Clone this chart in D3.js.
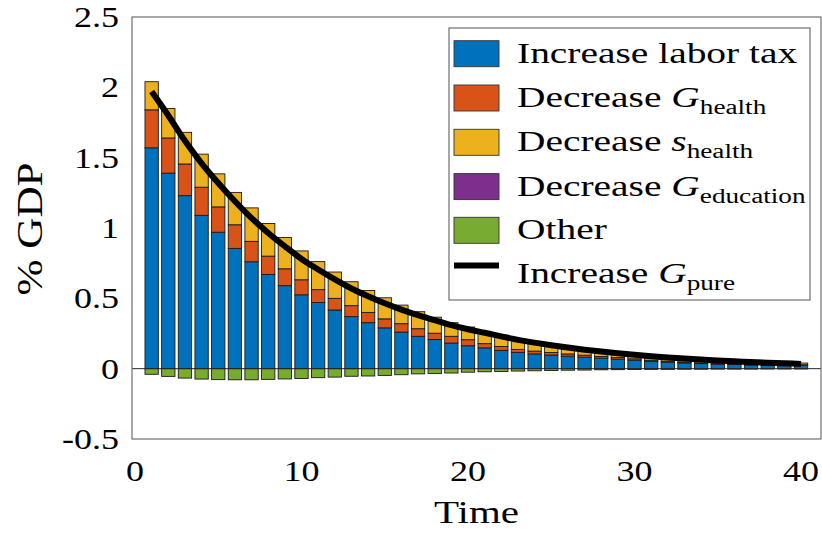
<!doctype html>
<html>
<head>
<meta charset="utf-8">
<script src="https://d3js.org/d3.v7.min.js"></script>
<style>
  body { margin: 0; background: #fff; }
  text { font-family: "Liberation Serif", "DejaVu Serif", serif; fill: #000; }
</style>
</head>
<body>
<div id="chart"></div>
<script>
// time periods
var time = [1,2,3,4,5,6,7,8,9,10,11,12,13,14,15,16,17,18,19,20,
            21,22,23,24,25,26,27,28,29,30,31,32,33,34,35,36,37,38,39,40];

// contributions, % GDP
var laborTax = [1.57,1.39,1.23,1.09,0.97,0.855,0.76,0.67,0.59,0.525,0.47,0.417,0.37,0.327,0.29,0.26,0.23,0.207,0.182,0.163,
                0.148,0.13,0.116,0.105,0.097,0.089,0.082,0.075,0.068,0.06,0.052,0.046,0.041,0.036,0.032,0.029,0.026,0.023,0.021,0.024];
var healthG = [0.27,0.25,0.225,0.2,0.18,0.168,0.145,0.13,0.12,0.107,0.092,0.083,0.078,0.073,0.064,0.06,0.054,0.045,0.048,0.043,
               0.03,0.028,0.021,0.02,0.018,0.016,0.014,0.012,0.011,0.01,0.008,0.007,0.006,0.005,0.004,0.004,0.003,0.003,0.002,0.004];
var healthS = [0.2,0.21,0.225,0.235,0.235,0.23,0.238,0.232,0.222,0.205,0.199,0.187,0.17,0.156,0.15,0.132,0.121,0.114,0.097,0.09,
               0.087,0.079,0.07,0.055,0.045,0.037,0.03,0.026,0.022,0.018,0.015,0.012,0.01,0.009,0.008,0.007,0.006,0.005,0.004,0.012];
var educationG = [0,0,0,0,0,0,0,0,0,0,0,0,0,0,0,0,0,0,0,0,
                  0,0,0,0,0,0,0,0,0,0,0,0,0,0,0,0,0,0,0,0];
var other = [-0.04,-0.055,-0.067,-0.074,-0.078,-0.079,-0.079,-0.076,-0.073,-0.07,-0.064,-0.06,-0.054,-0.052,-0.048,-0.043,-0.037,-0.035,-0.031,-0.025,
             -0.022,-0.02,-0.017,-0.015,-0.013,-0.011,-0.01,-0.008,-0.007,-0.006,-0.005,-0.005,-0.004,-0.004,-0.003,-0.003,-0.003,-0.002,-0.002,-0.002];
// total G_pure line
var gPure = [1.97,1.80,1.62,1.46,1.32,1.19,1.07,0.965,0.87,0.78,0.705,0.635,0.57,0.515,0.465,0.42,0.38,0.345,0.31,0.28,
             0.255,0.23,0.205,0.185,0.167,0.15,0.135,0.122,0.11,0.099,0.089,0.08,0.072,0.065,0.058,0.052,0.047,0.042,0.038,0.034];

var yTicks = [-0.5,0,0.5,1,1.5,2,2.5];
var xTicks = [0,10,20,30,40];

var keys = ["labor","hG","hS","edu","other"];
var colors = ["#0072BD","#D95319","#EDB120","#7E2F8E","#77AC30"];

var width = 822, height = 536;
var plotL = 132, plotR = 821, plotT = 17, plotB = 439;

var svg = d3.select("#chart").append("svg")
  .attr("width", width).attr("height", height);

var x = d3.scaleLinear().domain([-0.18, 41.2]).range([plotL, plotR]);
var y = d3.scaleLinear().domain([-0.5, 2.5]).range([plotB, plotT]);

// rows for the stack
var rows = time.map(function(t, i) {
  return {t: t, labor: laborTax[i], hG: healthG[i], hS: healthS[i], edu: educationG[i], other: other[i]};
});
var series = d3.stack().keys(keys).offset(d3.stackOffsetDiverging)(rows);

var bw = x(0.8) - x(0);
var bars = svg.append("g");
series.forEach(function(s, k) {
  bars.selectAll(null).data(s).enter().append("rect")
    .attr("x", function(d) { return x(d.data.t) - bw / 2; })
    .attr("y", function(d) { return y(Math.max(d[0], d[1])); })
    .attr("width", bw)
    .attr("height", function(d) { return Math.abs(y(d[0]) - y(d[1])); })
    .attr("fill", colors[k])
    .attr("stroke", function(d) { return Math.abs(d[1] - d[0]) > 0 ? "#1a1a1a" : "none"; })
    .attr("stroke-width", 0.9);
});

// bar baseline
svg.append("line")
  .attr("x1", plotL).attr("x2", plotR)
  .attr("y1", y(0)).attr("y2", y(0))
  .attr("stroke", "#262626").attr("stroke-width", 1);

// G_pure line
var line = d3.line()
  .x(function(d, i) { return x(time[i]); })
  .y(function(d) { return y(d); })
  .curve(d3.curveMonotoneX);
svg.append("path")
  .datum(gPure)
  .attr("d", line)
  .attr("fill", "none")
  .attr("stroke", "#000")
  .attr("stroke-width", 6)
  .attr("stroke-linejoin", "round");

// axes box
svg.append("rect")
  .attr("x", plotL).attr("y", plotT)
  .attr("width", plotR - plotL).attr("height", plotB - plotT)
  .attr("fill", "none").attr("stroke", "#6e6e6e").attr("stroke-width", 1.2);

// tick labels (stretched a bit to mimic the wide LaTeX font)
svg.selectAll(".ytick").data(yTicks).enter().append("text")
  .attr("class", "ytick")
  .attr("transform", function(d) { return "translate(119," + (y(d) + 10) + ") scale(1.2,1)"; })
  .attr("text-anchor", "end")
  .style("font-size", "30px")
  .text(function(d) { return d; });

svg.selectAll(".xtick").data(xTicks).enter().append("text")
  .attr("class", "xtick")
  .attr("transform", function(d) { return "translate(" + x(d) + ",481) scale(1.2,1)"; })
  .attr("text-anchor", "middle")
  .style("font-size", "30px")
  .text(function(d) { return d; });

// axis labels
svg.append("text")
  .attr("transform", "translate(" + ((plotL + plotR) / 2) + ",523) scale(1.28,1)")
  .attr("text-anchor", "middle")
  .style("font-size", "32px")
  .text("Time");

svg.append("text")
  .attr("transform", "translate(42,229) rotate(-90) scale(1.2,1)")
  .attr("text-anchor", "middle")
  .style("font-size", "36px")
  .text("% GDP");

// legend
var lx = 449, ly = 28, lw = 810 - 449, lh = 300 - 28;
var legend = svg.append("g");
legend.append("rect")
  .attr("x", lx).attr("y", ly).attr("width", lw).attr("height", lh)
  .attr("fill", "#fff").attr("stroke", "#6e6e6e").attr("stroke-width", 1.2);

var legendItems = [
  {main: "Increase labor tax", sym: "", sub: ""},
  {main: "Decrease ", sym: "G", sub: "health"},
  {main: "Decrease ", sym: "s", sub: "health"},
  {main: "Decrease ", sym: "G", sub: "education"},
  {main: "Other", sym: "", sub: ""},
  {main: "Increase ", sym: "G", sub: "pure"}
];
var rowY = [62.7, 107, 151.3, 195.6, 239.3, 282.5];

legendItems.forEach(function(it, i) {
  if (i < 5) {
    legend.append("rect")
      .attr("x", 454).attr("y", rowY[i] - 22).attr("width", 45).attr("height", 26)
      .attr("fill", colors[i]).attr("stroke", "#333").attr("stroke-width", 0.9);
  } else {
    legend.append("line")
      .attr("x1", 454).attr("x2", 499)
      .attr("y1", rowY[i] - 17).attr("y2", rowY[i] - 17)
      .attr("stroke", "#000").attr("stroke-width", 6);
  }
  var t = legend.append("text")
    .attr("transform", "translate(517," + rowY[i] + ") scale(1.36,1)")
    .style("font-size", "29px");
  t.append("tspan").text(it.main);
  if (it.sym) {
    t.append("tspan").style("font-style", "italic").text(it.sym);
    t.append("tspan").attr("dy", 7).style("font-size", "20px").text(it.sub);
  }
});
</script>
</body>
</html>
